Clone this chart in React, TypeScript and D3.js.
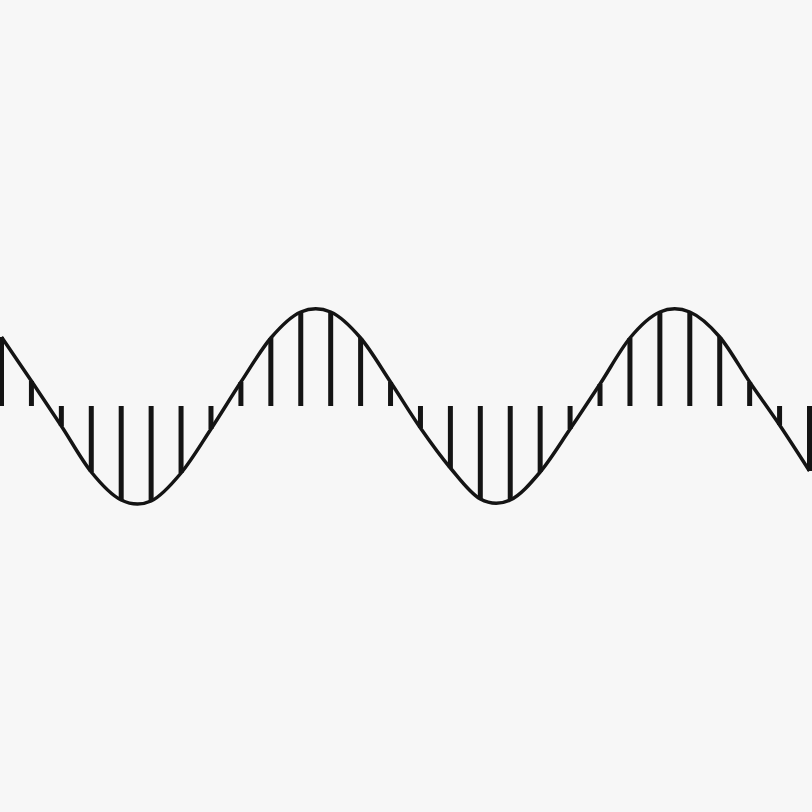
import React, { useEffect, useRef } from 'react';
import * as d3 from 'd3';

// sample index of each stem (one every ~30px)
const sampleIndex: number[] = d3.range(28);
// stem heights (pixels above the baseline, scaled to the amplitude)
const sampleValues: number[] = [
  69, 25, -20, -66, -94, -95, -67, -23, 24, 68, 94, 94, 68, 24,
  -22, -62, -93, -94, -66, -23, 22, 68, 94, 94, 69, 24, -19, -65,
];

const App = () => {
  const ref = useRef<SVGSVGElement>(null);

  useEffect(() => {
    drawChart();
  }, []);

  const drawChart = () => {
    const width = 812;
    const height = 812;
    const baseline = 406;

    const svg = d3.select(ref.current);
    svg.selectAll('*').remove();
    svg.attr('width', width).attr('height', height);

    svg.append('rect')
      .attr('width', width)
      .attr('height', height)
      .attr('fill', '#f7f7f7');

    const x = d3.scaleLinear()
      .domain([0, sampleIndex.length - 1])
      .range([1.5, 809.5]);

    const y = d3.scaleLinear()
      .domain([-100, 100])
      .range([baseline + 100, baseline - 100]);

    // stems from the zero line up/down to each sample
    svg.append('g')
      .selectAll('line')
      .data(sampleIndex)
      .enter().append('line')
      .attr('x1', i => x(i))
      .attr('x2', i => x(i))
      .attr('y1', y(0))
      .attr('y2', i => y(sampleValues[i]))
      .attr('stroke', '#141414')
      .attr('stroke-width', 5);

    // smooth curve through the samples
    const line = d3.line<number>()
      .x(i => x(i))
      .y(i => y(sampleValues[i]))
      .curve(d3.curveCatmullRom.alpha(0));

    svg.append('path')
      .datum(sampleIndex)
      .attr('d', line)
      .attr('fill', 'none')
      .attr('stroke', '#141414')
      .attr('stroke-width', 3.5);
  };

  return (
    <svg ref={ref} style={{ position: 'absolute', left: 0, top: 0, display: 'block' }} />
  );
};

export default App;
